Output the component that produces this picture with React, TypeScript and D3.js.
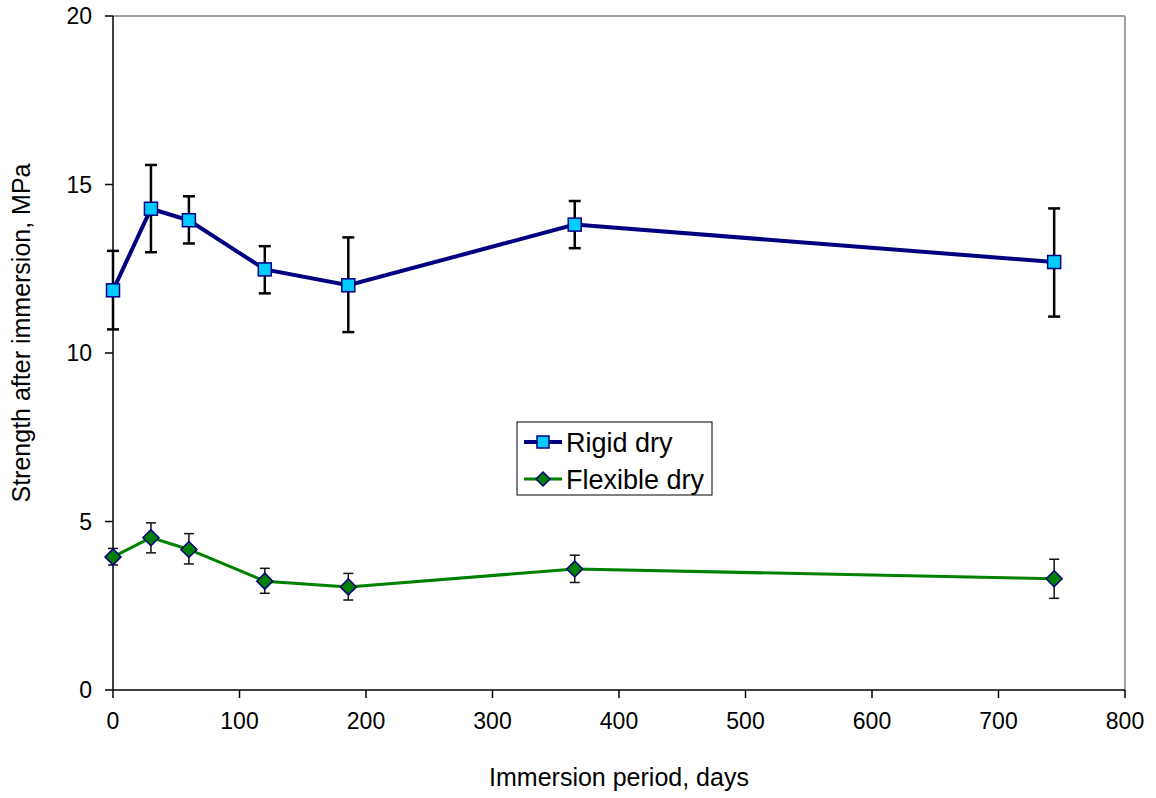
import React from "react";
import * as d3 from "d3";

const days = [0, 30, 60, 120, 186, 365, 744];
const rigidMean = [11.86, 14.28, 13.94, 12.48, 12.01, 13.81, 12.7];
const rigidHigh = [13.03, 15.58, 14.65, 13.17, 13.43, 14.51, 14.29];
const rigidLow = [10.7, 12.99, 13.25, 11.77, 10.62, 13.11, 11.08];
const flexMean = [3.95, 4.52, 4.17, 3.23, 3.06, 3.59, 3.3];
const flexHigh = [4.2, 4.96, 4.64, 3.61, 3.46, 4.0, 3.88];
const flexLow = [3.71, 4.07, 3.74, 2.87, 2.67, 3.19, 2.72];
const xTicks = [0, 100, 200, 300, 400, 500, 600, 700, 800];
const yTicks = [0, 5, 10, 15, 20];
const seriesNames = ["Rigid dry", "Flexible dry"];

export default function App() {
  const W = 1156, H = 798;
  const left = 113, right = 1125, top = 16, bottom = 690;
  const x = d3.scaleLinear().domain([0, 800]).range([left, right]);
  const y = d3.scaleLinear().domain([0, 20]).range([bottom, top]);
  const line = d3.line<[number, number]>().x(d => x(d[0])).y(d => y(d[1]));
  const rigidPts = days.map((d, i) => [d, rigidMean[i]] as [number, number]);
  const flexPts = days.map((d, i) => [d, flexMean[i]] as [number, number]);
  const font = "'Liberation Sans', Arial, sans-serif";
  const sq = 13;
  const dm = 8;
  const diamond = (cx: number, cy: number) => `M${cx},${cy - dm}L${cx + dm},${cy}L${cx},${cy + dm}L${cx - dm},${cy}Z`;
  const legX = 517, legY = 422;
  return (
    <svg width={W} height={H} style={{ position: "absolute", left: 0, top: 0, background: "#fff" }} fontFamily={font}>
      <rect x={0} y={0} width={W} height={H} fill="#fff" />
      {/* plot border top/right */}
      <line x1={left} x2={right} y1={top} y2={top} stroke="#a0a0a0" strokeWidth={2} />
      <line x1={right} x2={right} y1={top} y2={bottom} stroke="#a0a0a0" strokeWidth={2} />
      {/* axes */}
      <line x1={left} x2={left} y1={top} y2={bottom} stroke="#000" strokeWidth={1.5} />
      <line x1={left} x2={right} y1={bottom} y2={bottom} stroke="#000" strokeWidth={1.5} />
      {yTicks.map(t => (
        <g key={"y" + t}>
          <line x1={left - 8} x2={left} y1={y(t)} y2={y(t)} stroke="#000" strokeWidth={1.5} />
          <text x={left - 21} y={y(t)} dy="0.35em" textAnchor="end" fontSize={23}>{t}</text>
        </g>
      ))}
      {xTicks.map(t => (
        <g key={"x" + t}>
          <line x1={x(t)} x2={x(t)} y1={bottom} y2={bottom + 8} stroke="#000" strokeWidth={1.5} />
          <text x={x(t)} y={bottom + 39} textAnchor="middle" fontSize={23}>{t}</text>
        </g>
      ))}
      <text x={(left + right) / 2} y={786} textAnchor="middle" fontSize={25}>Immersion period, days</text>
      <text transform={`translate(30,${333}) rotate(-90)`} textAnchor="middle" fontSize={25}>Strength after immersion, MPa</text>

      {/* rigid */}
      <path d={line(rigidPts) || ""} fill="none" stroke="#000080" strokeWidth={4} />
      {days.map((d, i) => (
        <g key={"re" + i} stroke="#000" strokeWidth={2.5}>
          <line x1={x(d)} x2={x(d)} y1={y(rigidHigh[i])} y2={y(rigidLow[i])} />
          <line x1={x(d) - 6} x2={x(d) + 6} y1={y(rigidHigh[i])} y2={y(rigidHigh[i])} />
          <line x1={x(d) - 6} x2={x(d) + 6} y1={y(rigidLow[i])} y2={y(rigidLow[i])} />
        </g>
      ))}
      {rigidPts.map((p, i) => (
        <rect key={"rm" + i} x={x(p[0]) - sq / 2} y={y(p[1]) - sq / 2} width={sq} height={sq} fill="#00ccff" stroke="#000080" strokeWidth={1.5} />
      ))}

      {/* flexible */}
      <path d={line(flexPts) || ""} fill="none" stroke="#008000" strokeWidth={3} />
      {days.map((d, i) => (
        <g key={"fe" + i} stroke="#111" strokeWidth={1.5}>
          <line x1={x(d)} x2={x(d)} y1={y(flexHigh[i])} y2={y(flexLow[i])} />
          <line x1={x(d) - 5} x2={x(d) + 5} y1={y(flexHigh[i])} y2={y(flexHigh[i])} />
          <line x1={x(d) - 5} x2={x(d) + 5} y1={y(flexLow[i])} y2={y(flexLow[i])} />
        </g>
      ))}
      {flexPts.map((p, i) => (
        <path key={"fm" + i} d={diamond(x(p[0]), y(p[1]))} fill="#008000" stroke="#000080" strokeWidth={1.5} />
      ))}

      {/* legend */}
      <rect x={legX} y={legY} width={195} height={73} fill="#fff" stroke="#000" strokeWidth={1} />
      <line x1={legX + 7} x2={legX + 45} y1={legY + 20} y2={legY + 20} stroke="#000080" strokeWidth={4} />
      <rect x={legX + 26 - 6} y={legY + 20 - 6} width={12} height={12} fill="#00ccff" stroke="#000080" strokeWidth={1.5} />
      <text x={legX + 49} y={legY + 30} fontSize={27}>{seriesNames[0]}</text>
      <line x1={legX + 7} x2={legX + 45} y1={legY + 57} y2={legY + 57} stroke="#008000" strokeWidth={3} />
      <path d={`M${legX + 26},${legY + 50}L${legX + 33},${legY + 57}L${legX + 26},${legY + 64}L${legX + 19},${legY + 57}Z`} fill="#008000" stroke="#000080" strokeWidth={1.5} />
      <text x={legX + 49} y={legY + 67} fontSize={27}>{seriesNames[1]}</text>
    </svg>
  );
}
